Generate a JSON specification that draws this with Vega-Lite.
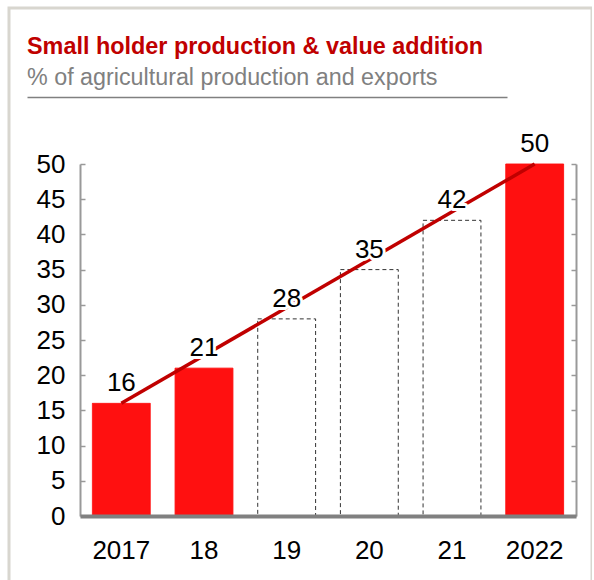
{
  "$schema": "https://vega.github.io/schema/vega-lite/v6.json",
  "width": 583,
  "height": 580,
  "autosize": {"type": "none"},
  "padding": {"left": 9, "top": 8, "right": 0, "bottom": 0},
  "background": "white",
  "config": {
    "view": {"stroke": "#d8d6cf", "strokeWidth": 3},
    "font": "Liberation Sans"
  },
  "title": {
    "text": "Small holder production & value addition",
    "subtitle": "% of agricultural production and exports",
    "anchor": "start",
    "frame": "group",
    "dx": 18,
    "offset": -82,
    "color": "#c00000",
    "fontSize": 23.4,
    "fontWeight": "bold",
    "font": "Liberation Sans",
    "subtitleColor": "#808080",
    "subtitleFontSize": 23.3,
    "subtitleFont": "Liberation Sans",
    "subtitlePadding": 7
  },
  "datasets": {
    "bars": [
      {"label": "2017", "value": 16, "type": "Actual"},
      {"label": "18", "value": 21, "type": "Actual"},
      {"label": "19", "value": 28, "type": "Projected"},
      {"label": "20", "value": 35, "type": "Projected"},
      {"label": "21", "value": 42, "type": "Projected"},
      {"label": "2022", "value": 50, "type": "Actual"}
    ],
    "trend": [
      {"label": "2017", "value": 16},
      {"label": "2022", "value": 50}
    ]
  },
  "layer": [
    {
      "data": {"name": "bars"},
      "layer": [
        {
          "mark": {"type": "bar", "strokeWidth": 1},
          "encoding": {
            "x": {
              "field": "label",
              "type": "nominal",
              "scale": {
                "domain": ["2017", "18", "19", "20", "21", "2022"],
                "range": [71, 567],
                "paddingInner": 0.3,
                "paddingOuter": 0.15
              },
              "axis": {
                "orient": "bottom",
                "offset": -72,
                "zindex": 1,
                "title": null,
                "ticks": false,
                "domainColor": "#808080",
                "domainWidth": 4,
                "labelFontSize": 26,
                "labelColor": "black",
                "labelAngle": 0,
                "labelPadding": 42,
                "labelBaseline": "alphabetic"
              }
            },
            "y": {
              "field": "value",
              "type": "quantitative",
              "scale": {"domain": [0, 50], "range": [508, 156], "nice": false},
              "axis": {
                "orient": "left",
                "offset": -71,
                "title": null,
                "grid": false,
                "values": [0, 5, 10, 15, 20, 25, 30, 35, 40, 45, 50],
                "tickSize": -5,
                "tickColor": "#999999",
                "tickWidth": 1.5,
                "domainColor": "#999999",
                "domainWidth": 2,
                "labelFontSize": 26,
                "labelColor": "black",
                "labelPadding": 20
              }
            },
            "fill": {
              "field": "type",
              "type": "nominal",
              "scale": {"domain": ["Actual", "Projected"], "range": ["#ff1010", "#ffffff"]},
              "legend": null
            },
            "stroke": {
              "field": "type",
              "type": "nominal",
              "scale": {"domain": ["Actual", "Projected"], "range": ["#ff1010", "#333333"]},
              "legend": null
            },
            "strokeDash": {
              "field": "type",
              "type": "nominal",
              "scale": {"domain": ["Actual", "Projected"], "range": [[1, 0], [4, 3]]},
              "legend": null
            }
          }
        },
        {
          "data": {"name": "trend"},
          "mark": {"type": "line", "color": "#c00000", "strokeWidth": 3.5},
          "encoding": {
            "x": {"field": "label", "type": "nominal"},
            "y": {
              "field": "value",
              "type": "quantitative",
              "axis": {
                "orient": "right",
                "offset": -16,
                "title": null,
                "grid": false,
                "labels": false,
                "values": [0, 5, 10, 15, 20, 25, 30, 35, 40, 45, 50],
                "tickSize": -5,
                "tickColor": "#999999",
                "tickWidth": 1.5,
                "domainColor": "#999999",
                "domainWidth": 2
              }
            }
          }
        },
        {
          "mark": {
            "type": "text",
            "fontSize": 26,
            "baseline": "alphabetic",
            "dy": -12,
            "fill": "white",
            "stroke": "white",
            "strokeWidth": 6,
            "strokeJoin": "round"
          },
          "encoding": {
            "x": {"field": "label", "type": "nominal"},
            "y": {"field": "value", "type": "quantitative", "axis": null},
            "text": {"field": "value", "type": "quantitative"}
          }
        },
        {
          "mark": {
            "type": "text",
            "fontSize": 26,
            "baseline": "alphabetic",
            "dy": -12,
            "color": "black"
          },
          "encoding": {
            "x": {"field": "label", "type": "nominal"},
            "y": {"field": "value", "type": "quantitative", "axis": null},
            "text": {"field": "value", "type": "quantitative"}
          }
        }
      ],
      "resolve": {"axis": {"y": "independent"}}
    },
    {
      "data": {"values": [{}]},
      "mark": {"type": "rule", "opacity": 0},
      "encoding": {
        "x": {
          "datum": 0,
          "type": "quantitative",
          "scale": {"domain": [0, 1], "range": [18, 498]},
          "axis": {
            "orient": "top",
            "offset": -89,
            "title": null,
            "grid": false,
            "ticks": false,
            "labels": false,
            "domainColor": "#808080",
            "domainWidth": 1.5
          }
        },
        "x2": {"datum": 1}
      }
    }
  ],
  "resolve": {"scale": {"x": "independent"}, "axis": {"x": "independent"}}
}
